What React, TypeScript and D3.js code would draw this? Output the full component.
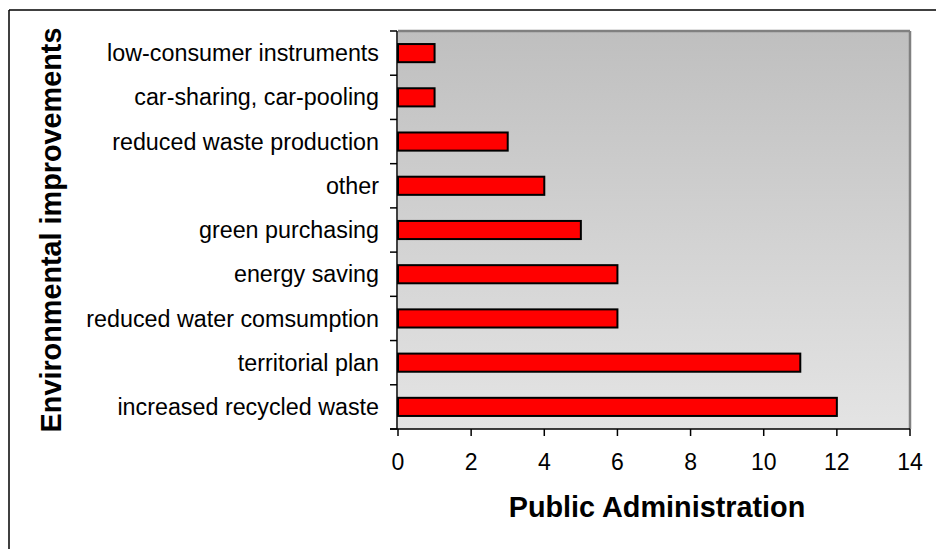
import React from "react";
import * as d3 from "d3";

// Environmental improvements reported by public administrations (top to bottom)
const categories = [
  "low-consumer instruments",
  "car-sharing, car-pooling",
  "reduced waste production",
  "other",
  "green purchasing",
  "energy saving",
  "reduced water comsumption",
  "territorial plan",
  "increased recycled waste",
];
const values = [1, 1, 3, 4, 5, 6, 6, 11, 12];
const xTicks = [0, 2, 4, 6, 8, 10, 12, 14];
const xTitle = "Public Administration";
const yTitle = "Environmental improvements";

const W = 936;
const H = 549;
const plot = { left: 398, top: 31, right: 910, bottom: 429 };
const font = "Arial, 'Liberation Sans', Helvetica, sans-serif";

export default function App() {
  const x = d3.scaleLinear().domain([0, 14]).range([plot.left, plot.right]);
  const y = d3
    .scaleBand<string>()
    .domain(categories)
    .range([plot.top, plot.bottom])
    .paddingInner(0.59)
    .paddingOuter(0.295);
  const step = (plot.bottom - plot.top) / categories.length;
  const boundaries = d3.range(categories.length + 1).map((i) => plot.top + i * step);

  return (
    <svg
      width={W}
      height={H}
      style={{ position: "absolute", left: 0, top: 0, background: "#fff" }}
      fontFamily={font}
    >
      <defs>
        <linearGradient id="plotBg" x1="0" y1="0" x2="0" y2="1">
          <stop offset="0" stopColor="#bfbfbf" />
          <stop offset="1" stopColor="#e4e4e4" />
        </linearGradient>
      </defs>

      {/* outer chart frame */}
      <line x1={9} y1={10} x2={W} y2={10} stroke="#000" strokeWidth={1.5} />
      <line x1={9} y1={10} x2={9} y2={H} stroke="#000" strokeWidth={1.5} />

      {/* plot area */}
      <rect
        x={plot.left}
        y={plot.top}
        width={plot.right - plot.left}
        height={plot.bottom - plot.top}
        fill="url(#plotBg)"
      />
      <line x1={plot.left} y1={plot.top} x2={plot.right} y2={plot.top} stroke="#808080" strokeWidth={2.5} />
      <line x1={plot.right} y1={plot.top} x2={plot.right} y2={plot.bottom} stroke="#808080" strokeWidth={2.5} />

      {/* bars */}
      {categories.map((c, i) => (
        <rect
          key={c}
          x={x(0)}
          y={y(c)!}
          width={x(values[i]) - x(0)}
          height={y.bandwidth()}
          fill="#ff0000"
          stroke="#000"
          strokeWidth={2}
        />
      ))}

      {/* y axis */}
      <line x1={plot.left - 1} y1={plot.top} x2={plot.left - 1} y2={plot.bottom} stroke="#000" strokeWidth={1.5} />
      {boundaries.map((b, i) => (
        <line key={i} x1={plot.left - 8} y1={b} x2={plot.left - 1} y2={b} stroke="#000" strokeWidth={1.5} />
      ))}
      {categories.map((c) => (
        <text
          key={c}
          x={379}
          y={y(c)! + y.bandwidth() / 2}
          dy="0.35em"
          textAnchor="end"
          fontSize={23.3}
          fill="#000"
        >
          {c}
        </text>
      ))}

      {/* x axis */}
      <line x1={plot.left - 8} y1={plot.bottom} x2={plot.right} y2={plot.bottom} stroke="#000" strokeWidth={1.5} />
      {xTicks.map((t) => (
        <g key={t}>
          <line x1={x(t)} y1={plot.bottom} x2={x(t)} y2={plot.bottom + 7} stroke="#000" strokeWidth={1.5} />
          <text x={x(t)} y={470} textAnchor="middle" fontSize={23} fill="#000">
            {t}
          </text>
        </g>
      ))}

      {/* axis titles */}
      <text
        x={(plot.left + plot.right) / 2 + 3}
        y={517}
        textAnchor="middle"
        fontSize={28.8}
        fontWeight="bold"
        fill="#000"
      >
        {xTitle}
      </text>
      <text
        transform={`translate(61, ${(plot.top + plot.bottom) / 2}) rotate(-90)`}
        textAnchor="middle"
        fontSize={28.8}
        fontWeight="bold"
        fill="#000"
      >
        {yTitle}
      </text>
    </svg>
  );
}
